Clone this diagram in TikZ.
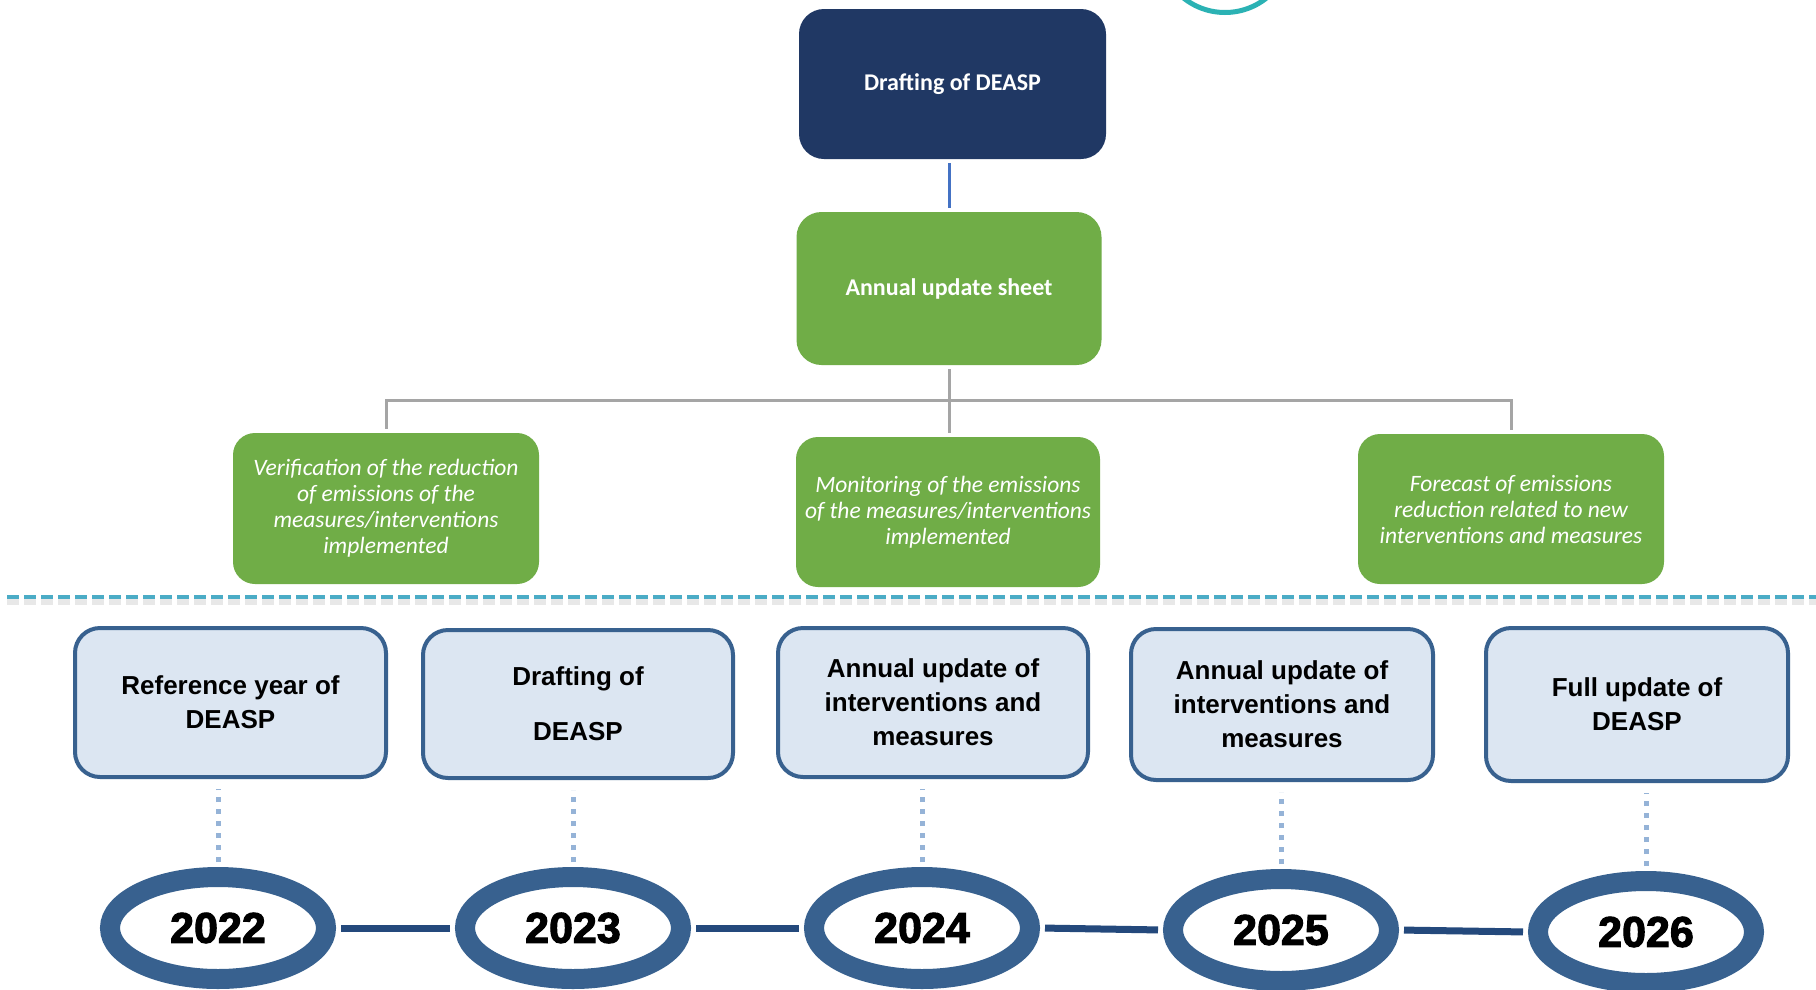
\documentclass[tikz,border=0pt]{standalone}
\usepackage{fontspec}
\setmainfont{Liberation Sans}
\newfontfamily\calibri{Carlito}
\newfontfamily\yearfont{Liberation Sans}[BoldFeatures={FakeBold=2.5}]
\usetikzlibrary{shapes.geometric}

\definecolor{navy}{HTML}{203864}
\definecolor{leaf}{HTML}{70AD47}
\definecolor{pale}{HTML}{DCE6F2}
\definecolor{ring}{HTML}{38618F}
\definecolor{rail}{HTML}{24497C}
\definecolor{dotblue}{HTML}{95B3D7}
\definecolor{sepblue}{HTML}{4BACC6}
\definecolor{treegrey}{HTML}{A5A5A5}
\definecolor{linkblue}{HTML}{4472C4}
\definecolor{tealring}{HTML}{2BB2B4}

\begin{document}
\begin{tikzpicture}[x=1pt,y=-1pt,
  headbox/.style={rectangle, rounded corners=25pt, minimum width=307pt, minimum height=150pt,
    text=white, inner sep=0pt, font=\calibri\bfseries\fontsize{24}{29}\selectfont},
  taskbox/.style={rectangle, rounded corners=22pt, fill=leaf, minimum width=306pt, minimum height=151pt,
    text=white, align=center, inner sep=0pt, font=\calibri\itshape\fontsize{23.5}{26}\selectfont},
  yearbox/.style={rectangle, rounded corners=25pt, draw=ring, line width=4pt, fill=pale,
    outer sep=2pt, inner sep=0pt, align=center, font=\bfseries\fontsize{26}{34}\selectfont},
  yearring/.style={ellipse, draw=ring, line width=20pt, fill=white, minimum width=216pt,
    minimum height=102pt, inner sep=0pt, outer sep=10pt,
    font=\yearfont\bfseries\fontsize{43}{43}\selectfont},
  link/.style={draw=linkblue, line width=3pt, shorten <=4pt, shorten >=4pt},
  tree/.style={draw=treegrey, line width=3pt},
  dots/.style={draw=dotblue, line width=5pt, dash pattern=on 5pt off 7pt, shorten <=5pt, shorten >=10pt},
  rail/.style={draw=rail, line width=7pt, shorten <=5pt, shorten >=5pt},
]
\useasboundingbox[fill=white] (0,0) rectangle (1816,989);

% partial teal ring at the top edge
\begin{scope}
  \clip (0,0) rectangle (1816,989);
  \draw[tealring, line width=5pt] (1225,-54) circle[radius=66.5pt];
\end{scope}

% upper hierarchy
\node[headbox, fill=navy] (plan) at (952.5,84) {Drafting of DEASP};
\node[headbox, fill=leaf, minimum width=305pt, minimum height=153pt] (upd) at (949,288.5) {Annual update sheet};

\node[taskbox] (tl) at (386,508.5) {Verification of the reduction\\of emissions of the\\measures/interventions\\implemented};
\node[taskbox, minimum width=304pt, minimum height=150pt] (tm) at (948,512) {Monitoring of the emissions\\of the measures/interventions\\implemented};
\node[taskbox, minimum height=150pt] (tr) at (1511,509) {Forecast of emissions\\reduction related to new\\interventions and measures};

\draw[link] (upd.north |- plan.south) -- (upd.north);
\coordinate (bus) at (949,400);
\draw[tree, shorten <=4pt] (upd.south) -- (bus);
\draw[tree, shorten <=4pt, shorten >=4pt] (tl.north) |- (bus) -| (tr.north);
\draw[tree, shorten >=4pt] (bus) -- (bus |- tm.north);

% separator with soft shadow
\draw[black!25, line width=7pt, opacity=0.35, dash pattern=on 12pt off 5pt] (7,601) -- (1816,601);
\draw[sepblue, line width=4pt, dash pattern=on 12pt off 5pt] (7,597) -- (1816,597);

% timeline boxes
\node[yearbox, minimum width=311pt, minimum height=149pt] (b1) at (230.5,702.5) {Reference year of\\DEASP};
\node[yearbox, minimum width=310pt, minimum height=148pt] (b2) at (578,704) {Drafting of\\[21pt]DEASP};
\node[yearbox, minimum width=310pt, minimum height=149pt] (b3) at (933,702.5) {Annual update of\\interventions and\\measures};
\node[yearbox, minimum width=302pt, minimum height=151pt] (b4) at (1282,704.5) {Annual update of\\interventions and\\measures};
\node[yearbox, minimum width=302pt, minimum height=153pt] (b5) at (1637,704.5) {Full update of\\DEASP};

% years
\node[yearring] (y22) at (218,928) {2022};
\node[yearring] (y23) at (573,928) {2023};
\node[yearring] (y24) at (922,928) {2024};
\node[yearring] (y25) at (1281,930) {2025};
\node[yearring] (y26) at (1646,932) {2026};

\foreach \y/\b in {y22/b1, y23/b2, y24/b3, y25/b4, y26/b5}
  \draw[dots] (\y.north) -- (\y.north |- \b.south);

\draw[rail] (y22.east) -- (y23.west);
\draw[rail] (y23.east) -- (y24.west);
\draw[rail] (y24.east) -- (y25.west);
\draw[rail] (y25.east) -- (y26.west);
\end{tikzpicture}
\end{document}
